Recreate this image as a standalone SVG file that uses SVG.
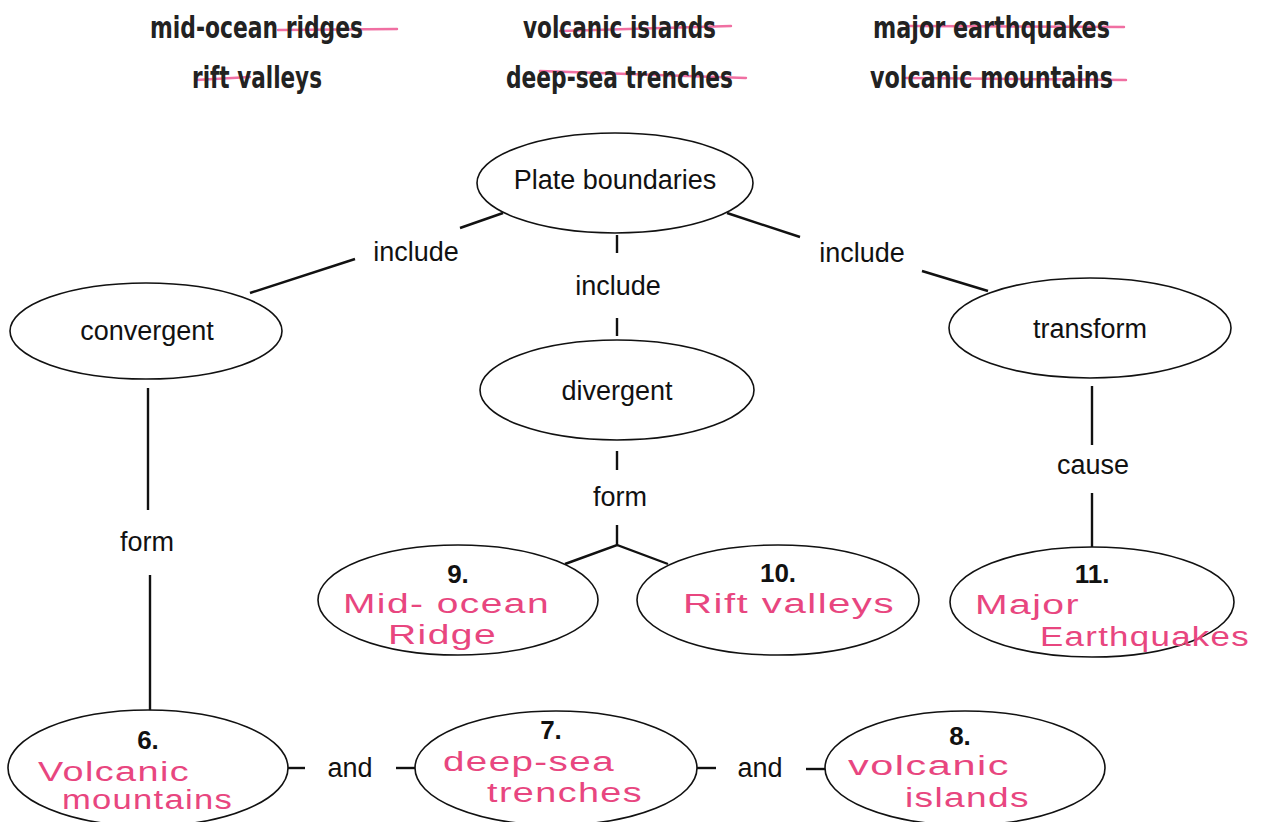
<svg xmlns="http://www.w3.org/2000/svg" width="1262" height="822" viewBox="0 0 1262 822">
<style>
.bg{fill:#ffffff}
.node{fill:#ffffff;stroke:#111;stroke-width:1.6}
.lbl{font-family:"Liberation Sans",Arial,sans-serif;font-size:27px;fill:#111;text-anchor:middle;dominant-baseline:central}
.num{font-family:"Liberation Sans",Arial,sans-serif;font-size:26px;font-weight:bold;fill:#111;text-anchor:middle}
.word{font-family:"Liberation Sans Narrow","DejaVu Sans Condensed","Liberation Sans",sans-serif;font-size:30px;font-weight:bold;fill:#222}
.hand{font-family:"Liberation Sans","DejaVu Sans",sans-serif;font-size:27px;fill:#e8467f;letter-spacing:1px}
.hl{stroke:#ee5f98;stroke-width:2.4;fill:none;stroke-linecap:round;opacity:0.9}
.conn line,.conn polyline{stroke:#111;stroke-width:2.4;fill:none}
</style>
<rect class="bg" x="0" y="0" width="1262" height="822"/>

<g id="wordbank">
<line class="hl" x1="278" y1="30" x2="397" y2="29"/>
<line class="hl" x1="560" y1="31" x2="731" y2="26"/>
<line class="hl" x1="910" y1="26" x2="1124" y2="27"/>
<line class="hl" x1="196" y1="80" x2="250" y2="77"/>
<line class="hl" x1="540" y1="71" x2="746" y2="78"/>
<line class="hl" x1="906" y1="78" x2="1126" y2="80"/>
<text class="word" x="150" y="38" textLength="213" lengthAdjust="spacingAndGlyphs">mid-ocean ridges</text>
<text class="word" x="523" y="38" textLength="193" lengthAdjust="spacingAndGlyphs">volcanic islands</text>
<text class="word" x="873" y="38" textLength="237" lengthAdjust="spacingAndGlyphs">major earthquakes</text>
<text class="word" x="192" y="88" textLength="130" lengthAdjust="spacingAndGlyphs">rift valleys</text>
<text class="word" x="506" y="88" textLength="227" lengthAdjust="spacingAndGlyphs">deep-sea trenches</text>
<text class="word" x="870" y="88" textLength="243" lengthAdjust="spacingAndGlyphs">volcanic mountains</text>
</g>

<g class="conn" id="connectors">
<line x1="503" y1="213" x2="460" y2="228"/>
<line x1="355" y1="259" x2="250" y2="293"/>
<line x1="617" y1="235" x2="617" y2="253"/>
<line x1="617" y1="318" x2="617" y2="336"/>
<line x1="727" y1="213" x2="800" y2="237"/>
<line x1="922" y1="271" x2="988" y2="291"/>
<line x1="148" y1="388" x2="148" y2="510"/>
<line x1="150" y1="575" x2="150" y2="711"/>
<line x1="617" y1="451" x2="617" y2="470"/>
<line x1="617" y1="525" x2="617" y2="545"/>
<polyline points="565,564 617,545 668,564"/>
<line x1="1092" y1="386" x2="1092" y2="445"/>
<line x1="1092" y1="493" x2="1092" y2="548"/>
<line x1="288" y1="768" x2="305" y2="768"/>
<line x1="396" y1="768" x2="415" y2="768"/>
<line x1="697" y1="768" x2="716" y2="768"/>
<line x1="806" y1="769" x2="825" y2="769"/>
<text class="lbl" x="416" y="252">include</text>
<text class="lbl" x="618" y="286">include</text>
<text class="lbl" x="862" y="253">include</text>
<text class="lbl" x="147" y="542">form</text>
<text class="lbl" x="620" y="497">form</text>
<text class="lbl" x="1093" y="465">cause</text>
<text class="lbl" x="350" y="768">and</text>
<text class="lbl" x="760" y="768">and</text>
</g>

<g id="plate">
<ellipse class="node" cx="615" cy="183" rx="138" ry="50"/>
<text class="lbl" x="615" y="180">Plate boundaries</text>
</g>
<g id="convergent">
<ellipse class="node" cx="146" cy="331" rx="136" ry="48"/>
<text class="lbl" x="147" y="331">convergent</text>
</g>
<g id="divergent">
<ellipse class="node" cx="617" cy="390" rx="137" ry="50"/>
<text class="lbl" x="617" y="391">divergent</text>
</g>
<g id="transform">
<ellipse class="node" cx="1090" cy="328" rx="141" ry="50"/>
<text class="lbl" x="1090" y="329">transform</text>
</g>

<g id="n9">
<ellipse class="node" cx="458" cy="600" rx="140" ry="55"/>
<text class="num" x="458" y="583">9.</text>
<text class="hand" x="343" y="613" textLength="207" lengthAdjust="spacingAndGlyphs">Mid- ocean</text>
<text class="hand" x="388" y="644" textLength="109" lengthAdjust="spacingAndGlyphs">Ridge</text>
</g>
<g id="n10">
<ellipse class="node" cx="778" cy="600" rx="141" ry="55"/>
<text class="num" x="778" y="582">10.</text>
<text class="hand" x="683" y="613" textLength="212" lengthAdjust="spacingAndGlyphs">Rift valleys</text>
</g>
<g id="n11">
<ellipse class="node" cx="1092" cy="602" rx="142" ry="55"/>
<text class="num" x="1092" y="583">11.</text>
<text class="hand" x="975" y="614" textLength="105" lengthAdjust="spacingAndGlyphs">Major</text>
<text class="hand" x="1040" y="646" textLength="210" lengthAdjust="spacingAndGlyphs">Earthquakes</text>
</g>

<g id="n6">
<ellipse class="node" cx="148" cy="768" rx="140" ry="58"/>
<text class="num" x="148" y="749">6.</text>
<text class="hand" x="38" y="781" textLength="152" lengthAdjust="spacingAndGlyphs">Volcanic</text>
<text class="hand" x="62" y="809" textLength="171" lengthAdjust="spacingAndGlyphs">mountains</text>
</g>
<g id="n7">
<ellipse class="node" cx="556" cy="768" rx="141" ry="57"/>
<text class="num" x="551" y="739">7.</text>
<text class="hand" x="443" y="771" textLength="172" lengthAdjust="spacingAndGlyphs">deep-sea</text>
<text class="hand" x="487" y="802" textLength="156" lengthAdjust="spacingAndGlyphs">trenches</text>
</g>
<g id="n8">
<ellipse class="node" cx="965" cy="768" rx="140" ry="57"/>
<text class="num" x="960" y="745">8.</text>
<text class="hand" x="848" y="775" textLength="162" lengthAdjust="spacingAndGlyphs">volcanic</text>
<text class="hand" x="905" y="807" textLength="125" lengthAdjust="spacingAndGlyphs">islands</text>
</g>
</svg>
